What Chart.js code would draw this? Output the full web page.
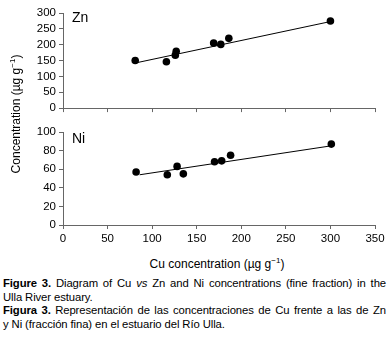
<!DOCTYPE html>
<html>
<head>
<meta charset="utf-8">
<title>Cu vs Zn and Ni</title>
<script src="https://cdn.jsdelivr.net/npm/chart.js@4.4.0/dist/chart.umd.min.js"></script>
<style>
body{margin:0;width:390px;height:350px;background:#fff;font-family:"Liberation Sans",Arial,sans-serif;color:#000;position:relative;overflow:hidden}
canvas{position:absolute;left:0}
#cZn{top:0}
#cNi{top:118px}
.lbl{position:absolute;font-size:14px}
#ytitle{position:absolute;left:16px;top:114px;transform:translate(-50%,-50%) rotate(-90deg);white-space:nowrap;font-size:12px}
#xtitle{position:absolute;left:217px;top:264px;transform:translate(-50%,-50%);white-space:nowrap;font-size:12px}
sup{font-size:8px;vertical-align:5px;line-height:0}
#cap{position:absolute;left:3px;top:277px;width:383px;font-size:11.3px;letter-spacing:-0.1px;line-height:13.5px}
#cap div{white-space:nowrap}
#cap .j{text-align:justify;text-align-last:justify;white-space:normal}
</style>
</head>
<body>
<canvas id="cZn" width="390" height="118"></canvas>
<canvas id="cNi" width="390" height="132"></canvas>
<div class="lbl" style="left:72px;top:9px">Zn</div>
<div class="lbl" style="left:72px;top:130px">Ni</div>
<div id="ytitle">Concentration (µg g<sup>−1</sup>)</div>
<div id="xtitle">Cu concentration (µg g<sup>−1</sup>)</div>
<div id="cap">
<div class="j"><b>Figure 3.</b> Diagram of Cu <i>vs</i> Zn and Ni concentrations (fine fraction) in the</div>
<div>Ulla River estuary.</div>
<div class="j"><b>Figura 3.</b> Representación de las concentraciones de Cu frente a las de Zn</div>
<div>y Ni (fracción fina) en el estuario del Río Ulla.</div>
</div>

<script>
// valores
const znCu  = [81, 116, 126, 127, 169, 177, 186, 300];
const znVal = [150, 146, 167, 179, 205, 201, 220, 275];
const niCu  = [82, 117, 128, 135, 170, 178, 188, 301];
const niVal = [57, 54, 63, 55, 68, 69, 75, 87];
const znFit = [[84, 144], [300, 273]];
const niFit = [[86, 54], [300, 85]];
const xTicks = [0, 50, 100, 150, 200, 250, 300, 350];

const axisCol = '#666';
const tickFont = {family:'"Liberation Sans Narrow","Liberation Sans",Arial,sans-serif', size:11.5};

function pts(xs, ys){ return xs.map((x,i)=>({x, y:ys[i]})); }
function fitPts(f){ return f.map(p=>({x:p[0], y:p[1]})); }

function makeChart(id, cu, vals, fit, yMax, yStep, padTop, showX, xH){
  return new Chart(document.getElementById(id), {
    type:'scatter',
    data:{datasets:[
      { data:pts(cu, vals), pointRadius:3.8, pointHoverRadius:3.8,
        backgroundColor:'#000', borderWidth:0 },
      { type:'line', data:fitPts(fit), borderColor:'#000', borderWidth:1,
        pointRadius:0, fill:false }
    ]},
    options:{
      responsive:false, animation:false,
      layout:{padding:{top:padTop, right:15, left:0, bottom:0}},
      plugins:{legend:{display:false}, tooltip:{enabled:false}},
      scales:{
        x:{ type:'linear', min:0, max:350,
            afterBuildTicks:s=>{ s.ticks = xTicks.map(v=>({value:v})); },
            afterFit:s=>{ s.height = xH; },
            grid:{drawOnChartArea:false, drawTicks:true, tickLength:4, color:axisCol},
            border:{display:true, color:axisCol, width:1},
            ticks:{display:showX, color:'#000', font:tickFont, padding:3, maxRotation:0} },
        y:{ min:0, max:yMax,
            afterFit:s=>{ s.width = 63; },
            grid:{drawOnChartArea:false, drawTicks:true, tickLength:4, color:axisCol},
            border:{display:true, color:axisCol, width:1},
            ticks:{stepSize:yStep, color:'#000', font:tickFont, padding:3} }
      }
    }
  });
}

makeChart('cZn', znCu, znVal, znFit, 300, 50, 13, false, 9);
makeChart('cNi', niCu, niVal, niFit, 100, 20, 14, true, 25);
</script>
</body>
</html>
